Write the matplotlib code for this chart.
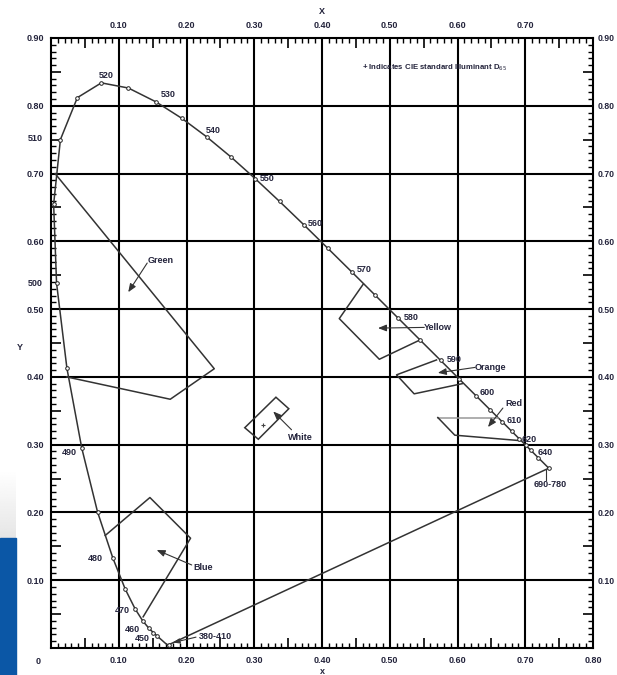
import numpy as np
import matplotlib.pyplot as plt
from matplotlib.ticker import MultipleLocator, FuncFormatter
from matplotlib.patches import Rectangle, Polygon

# spectral locus (nm, x, y)
wl = [380, 410, 420, 430, 440, 450, 455, 460, 465, 470, 475, 480, 485, 490,
      495, 500, 505, 510, 515, 520, 525, 530, 535, 540, 545, 550, 555, 560,
      565, 570, 575, 580, 585, 590, 595, 600, 605, 610, 615, 620, 625, 630,
      640, 650, 660, 680, 700]
loc_x = [0.1741, 0.1726, 0.1714, 0.1689, 0.1644, 0.1566, 0.1510, 0.1440,
         0.1355, 0.1241, 0.1096, 0.0913, 0.0687, 0.0454, 0.0235, 0.0082,
         0.0039, 0.0139, 0.0389, 0.0743, 0.1142, 0.1547, 0.1929, 0.2296,
         0.2658, 0.3016, 0.3373, 0.3731, 0.4087, 0.4441, 0.4788, 0.5125,
         0.5448, 0.5752, 0.6029, 0.6270, 0.6482, 0.6658, 0.6801, 0.6915,
         0.7006, 0.7079, 0.7190, 0.7260, 0.7300, 0.7334, 0.7347]
loc_y = [0.0050, 0.0048, 0.0051, 0.0069, 0.0109, 0.0177, 0.0227, 0.0297,
         0.0399, 0.0578, 0.0868, 0.1327, 0.2007, 0.2950, 0.4127, 0.5384,
         0.6548, 0.7502, 0.8120, 0.8338, 0.8262, 0.8059, 0.7816, 0.7543,
         0.7243, 0.6923, 0.6589, 0.6245, 0.5896, 0.5547, 0.5202, 0.4866,
         0.4544, 0.4242, 0.3965, 0.3725, 0.3514, 0.3340, 0.3197, 0.3083,
         0.2993, 0.2920, 0.2809, 0.2740, 0.2700, 0.2666, 0.2653]
marked = [380, 450, 455, 460, 465, 470, 475, 480, 485, 490, 495, 500, 505,
          510, 515, 520, 525, 530, 535, 540, 545, 550, 555, 560, 565, 570,
          575, 580, 585, 590, 595, 600, 605, 610, 615, 620, 625, 630, 640, 700]

# colour regions (open outlines, the locus closes them)
green_x = [0.006, 0.241, 0.176, 0.023]
green_y = [0.700, 0.412, 0.367, 0.400]
yellow_x = [0.461, 0.4255, 0.4846, 0.5436]
yellow_y = [0.537, 0.486, 0.426, 0.454]
orange_x = [0.569, 0.510, 0.536, 0.607]
orange_y = [0.425, 0.403, 0.375, 0.390]
red_x = [0.660, 0.571, 0.596, 0.692]
red_y = [0.340, 0.340, 0.314, 0.306]
blue_x = [0.080, 0.146, 0.206, 0.136]
blue_y = [0.166, 0.222, 0.162, 0.046]
white_x = [0.286, 0.306, 0.351, 0.332]
white_y = [0.325, 0.308, 0.353, 0.370]
d65 = (0.3127, 0.3290)

# region names: label position, arrow tail, arrow head
region_names = ["Green", "Yellow", "Orange", "Red", "White", "Blue"]
name_xy = [(0.142, 0.572), (0.551, 0.473), (0.626, 0.414), (0.670, 0.361),
           (0.350, 0.311), (0.2096, 0.119)]
tail_xy = [(0.142, 0.568), (0.551, 0.473), (0.626, 0.414), (0.667, 0.354),
           (0.355, 0.322), (0.2077, 0.1225)]
head_xy = [(0.114, 0.525), (0.4827, 0.472), (0.571, 0.406), (0.645, 0.326),
           (0.328, 0.349), (0.156, 0.1446)]

# wavelength labels
wl_labels = ["520", "530", "540", "550", "560", "570", "580", "590", "600",
             "610", "620", "640", "690-780", "490", "480", "470", "460", "450",
             "380-410"]
wl_lab_x = [0.070, 0.162, 0.229, 0.308, 0.379, 0.451, 0.521, 0.584, 0.633,
            0.6726, 0.6947, 0.719, 0.712, 0.016, 0.054, 0.0945, 0.109, 0.123,
            0.2175]
wl_lab_y = [0.845, 0.816, 0.763, 0.692, 0.627, 0.559, 0.487, 0.425, 0.377,
            0.335, 0.308, 0.288, 0.2405, 0.288, 0.132, 0.056, 0.0276, 0.0133,
            0.0167]
side_labels = ["510", "500"]
side_y = [0.752, 0.538]

ink = "#24243c"
fnt = "Liberation Sans"

fig = plt.figure(figsize=(6.17, 6.75), dpi=100)

# slide background remnants at the lower left
gax = fig.add_axes([0, 137 / 675, 16 / 617, 68 / 675])
gax.imshow(np.linspace(1.0, 0.9, 50).reshape(-1, 1), cmap="gray", vmin=0,
           vmax=1, aspect="auto")
gax.axis("off")
fig.patches.append(Rectangle((0, 0), 16 / 617, 137 / 675, transform=fig.transFigure,
                             color="#0b57a6", zorder=0))

ax = fig.add_axes([51 / 617, 27 / 675, 542 / 617, 610 / 675])
ax.set_xlim(0, 0.8)
ax.set_ylim(0, 0.9)

for v in np.arange(0.1, 0.8, 0.1):
    ax.axvline(v, color="black", lw=1.5, zorder=1)
for v in np.arange(0.1, 0.9, 0.1):
    ax.axhline(v, color="black", lw=1.5, zorder=1)

# locus + purple line
ax.plot(loc_x + [loc_x[0]], loc_y + [loc_y[0]], color="#333333", lw=1.1, zorder=3)
mx = [loc_x[wl.index(w)] for w in marked]
my = [loc_y[wl.index(w)] for w in marked]
ax.plot(mx, my, "o", ms=2.6, mfc="white", mec="#222222", mew=0.7, zorder=4)

for xs, ys in [(green_x, green_y), (yellow_x, yellow_y),
               (orange_x, orange_y), (blue_x, blue_y)]:
    ax.plot(xs, ys, color="#333333", lw=1.1, zorder=3)
ax.plot(red_x[:2], red_y[:2], color="#999999", lw=1.1, zorder=3)
ax.plot(red_x[1:], red_y[1:], color="#333333", lw=1.1, zorder=3)
ax.add_patch(Polygon(list(zip(white_x, white_y)), closed=True, fill=False,
                     ec="#333333", lw=1.1, zorder=3))
ax.plot(*d65, marker="+", ms=3, color="#444444", mew=0.8, zorder=4)

for name, nxy, txy, hxy in zip(region_names, name_xy, tail_xy, head_xy):
    ax.text(nxy[0], nxy[1], name, fontsize=6.5, family=fnt, fontweight="bold",
            color=ink, va="center", ha="left", zorder=5)
    ax.annotate("", xy=hxy, xytext=txy,
                arrowprops=dict(arrowstyle="-|>,head_length=0.5,head_width=0.2",
                                color="#333333", lw=0.8, shrinkA=0, shrinkB=0),
                zorder=5)

for lab, lx, ly in zip(wl_labels, wl_lab_x, wl_lab_y):
    ax.text(lx, ly, lab, fontsize=6.5, family=fnt, fontweight="bold", color=ink,
            va="center", ha="left", zorder=5)
for lab, ly in zip(side_labels, side_y):
    ax.text(-0.012, ly, lab, fontsize=6.5, family=fnt, fontweight="bold", color=ink,
            va="center", ha="right", clip_on=False)
ax.text(-0.016, -0.02, "0", fontsize=6.5, family=fnt, fontweight="bold", color=ink,
        va="center", ha="right", clip_on=False)

# leaders for 690-780 and 380-410
ax.plot([0.730, 0.730], [0.248, 0.262], color="#333333", lw=0.8)
ax.annotate("", xy=(0.180, 0.008), xytext=(0.214, 0.016),
            arrowprops=dict(arrowstyle="-|>,head_length=0.4,head_width=0.15",
                            color="#333333", lw=0.8, shrinkA=0, shrinkB=0))

ax.text(0.4586, 0.856, "+ Indicates CIE standard Illuminant D$_{65}$", fontsize=5.6,
        family=fnt, fontweight="bold", color=ink, va="center", ha="left")

# ticks
for s in ax.spines.values():
    s.set_linewidth(1.5)
ax.xaxis.set_major_locator(MultipleLocator(0.05))
ax.yaxis.set_major_locator(MultipleLocator(0.05))
ax.xaxis.set_minor_locator(MultipleLocator(0.01))
ax.yaxis.set_minor_locator(MultipleLocator(0.01))
ax.tick_params(which="both", direction="in", top=True, right=True, color="black")
ax.tick_params(which="major", length=7, width=1.2)
ax.tick_params(which="minor", length=3.5, width=1.0)


def lab(v, pos, hi):
    k = int(round(v * 20))
    if k % 2 or k == 0 or v > hi + 1e-6:
        return ""
    return "%.2f" % v


ax.xaxis.set_major_formatter(FuncFormatter(lambda v, p: lab(v, p, 0.8)))
ax.yaxis.set_major_formatter(FuncFormatter(lambda v, p: lab(v, p, 0.9)))
ax.tick_params(axis="x", pad=6)
ax.tick_params(axis="y", pad=5)
for t in ax.get_xticklabels() + ax.get_yticklabels():
    t.set_fontsize(6.5)
    t.set_family(fnt)
    t.set_fontweight("bold")
    t.set_color(ink)

top_vals = np.arange(0.1, 0.75, 0.1)
secx = ax.secondary_xaxis("top")
secx.set_xticks(top_vals, ["%.2f" % v for v in top_vals])
secx.tick_params(length=0, pad=6, labelsize=6.5, labelcolor=ink)
right_vals = np.arange(0.1, 0.95, 0.1)
secy = ax.secondary_yaxis("right")
secy.set_yticks(right_vals, ["%.2f" % v for v in right_vals])
secy.tick_params(length=0, pad=3, labelsize=6.2, labelcolor=ink)
for sa in (secx, secy):
    for s in sa.spines.values():
        s.set_visible(False)
    for t in sa.get_xticklabels() + sa.get_yticklabels():
        t.set_family(fnt)
        t.set_fontweight("bold")

fig.text(322 / 617, 1 - 12 / 675, "X", fontsize=6.5, family=fnt, fontweight="bold",
         color=ink, ha="center", va="center")
fig.text(20 / 617, 1 - 348 / 675, "Y", fontsize=6.5, family=fnt, fontweight="bold",
         color=ink, ha="center", va="center")
fig.text(322 / 617, 1 - 671 / 675, "x", fontsize=6.5, family=fnt, fontweight="bold",
         color=ink, ha="center", va="center")

fig.savefig("out.png", dpi=100)
